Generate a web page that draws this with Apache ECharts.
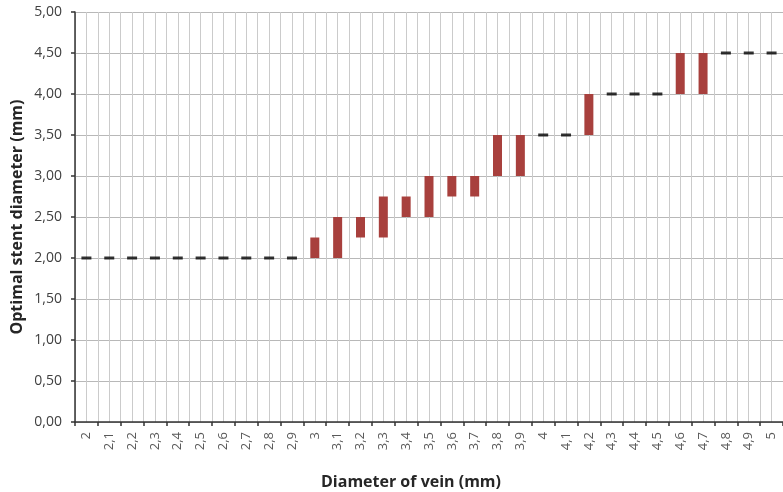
<!DOCTYPE html>
<html>
<head>
<meta charset="utf-8">
<script src="https://cdn.jsdelivr.net/npm/echarts@6/dist/echarts.min.js"></script>
<style>
html,body{margin:0;padding:0;background:#fff;}
#chart{width:783px;height:492px;}
</style>
</head>
<body>
<div id="chart"></div>
<script>
const categories = ['2','2,1','2,2','2,3','2,4','2,5','2,6','2,7','2,8','2,9','3','3,1','3,2','3,3','3,4','3,5','3,6','3,7','3,8','3,9','4','4,1','4,2','4,3','4,4','4,5','4,6','4,7','4,8','4,9','5'];
const lowValues  = [2,2,2,2,2,2,2,2,2,2, 2.00,2.00,2.25,2.25,2.50,2.50,2.75,2.75,3.00,3.00, 3.5,3.5,3.5,4.0,4.0,4.0,4.0,4.0,4.5,4.5,4.5];
const highValues = [2,2,2,2,2,2,2,2,2,2, 2.25,2.50,2.50,2.75,2.75,3.00,3.00,3.00,3.50,3.50, 3.5,3.5,4.0,4.0,4.0,4.0,4.5,4.5,4.5,4.5,4.5];
const yMin = 0, yMax = 5, yStep = 0.5;
const xTitle = 'Diameter of vein (mm)';
const yTitle = 'Optimal stent diameter (mm)';

const rangeValues = highValues.map((h, i) => +(h - lowValues[i]).toFixed(4));
const dashData = [];
lowValues.forEach((l, i) => { if (l === highValues[i]) dashData.push([i, l]); });

const font = "'Open Sans', 'Liberation Sans', sans-serif";
const chart = echarts.init(document.getElementById('chart'), null, {renderer: 'canvas'});
chart.setOption({
  animation: false,
  backgroundColor: '#fff',
  grid: {left: 75, right: -3, top: 12, bottom: 70, containLabel: false},
  xAxis: [{
    type: 'category',
    data: categories,
    boundaryGap: true,
    axisLine: {show: true, lineStyle: {color: '#333', width: 1.5}},
    axisTick: {show: true, interval: 0, length: 4, lineStyle: {color: '#333', width: 1.5}},
    axisLabel: {interval: 0, rotate: 90, margin: 10, color: '#595959', fontSize: 13, fontFamily: font},
    splitLine: {show: false}
  }, {
    type: 'value',
    min: 0, max: categories.length, interval: 0.5,
    position: 'bottom',
    axisLine: {show: false}, axisTick: {show: false}, axisLabel: {show: false},
    splitLine: {show: true, lineStyle: {color: '#cbcbcb', width: 1}}
  }],
  yAxis: {
    type: 'value',
    min: yMin, max: yMax, interval: yStep,
    axisLine: {show: true, lineStyle: {color: '#333', width: 1.5}},
    axisTick: {show: true, length: 4, lineStyle: {color: '#333', width: 1.5}},
    axisLabel: {margin: 13, color: '#404040', fontSize: 14, fontFamily: font,
      formatter: v => v.toFixed(2).replace('.', ',')},
    splitLine: {show: true, lineStyle: {color: '#b8b8b8', width: 1.2}}
  },
  graphic: [{
    type: 'text', x: 411, y: 482,
    style: {text: xTitle, align: 'center', verticalAlign: 'middle',
      font: "bold 16px 'Open Sans', sans-serif", fill: '#262626'}
  }, {
    type: 'text', x: 17, y: 217, rotation: Math.PI / 2,
    style: {text: yTitle, align: 'center', verticalAlign: 'middle',
      font: "bold 16px 'Open Sans', sans-serif", fill: '#262626'}
  }],
  series: [{
    name: 'base', type: 'bar', stack: 'r', xAxisIndex: 0,
    data: lowValues, barWidth: 9,
    itemStyle: {color: 'rgba(0,0,0,0)'}, silent: true
  }, {
    name: 'range', type: 'bar', stack: 'r', xAxisIndex: 0,
    data: rangeValues, barWidth: 9,
    itemStyle: {color: '#a8403d'}
  }, {
    name: 'dash', type: 'scatter', xAxisIndex: 0,
    data: dashData, symbol: 'rect', symbolSize: [10, 3],
    itemStyle: {color: '#000'}, z: 5
  }]
});
</script>
</body>
</html>
